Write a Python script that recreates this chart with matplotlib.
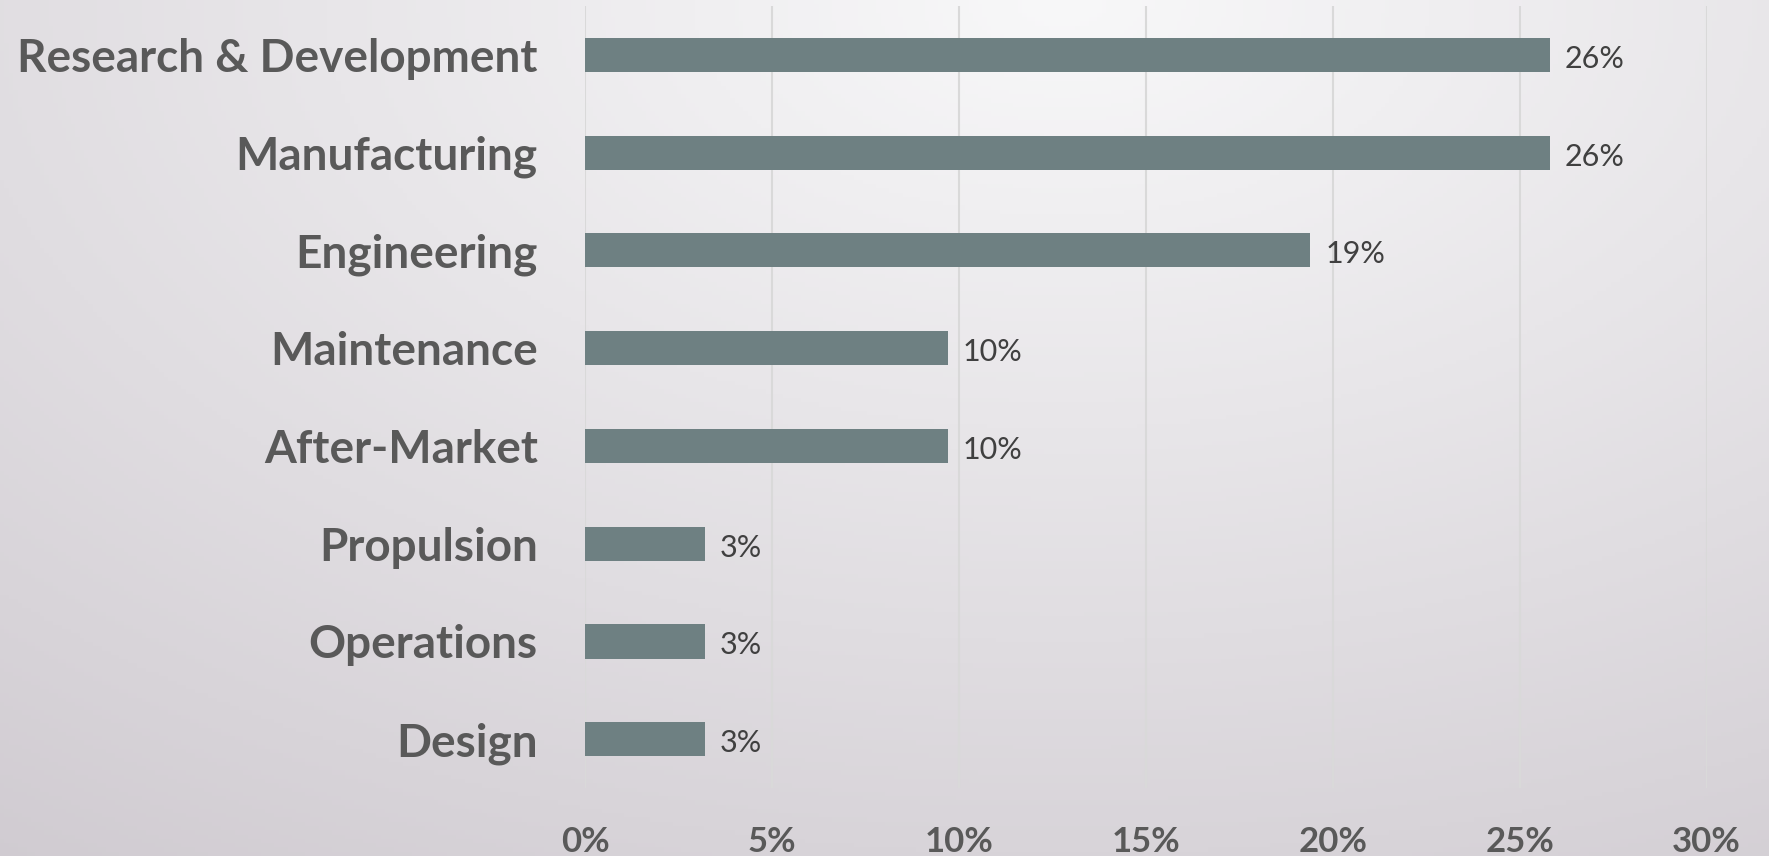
import numpy as np
import matplotlib
matplotlib.use("Agg")
import matplotlib.pyplot as plt
from matplotlib.ticker import FuncFormatter

# data: head counts out of 31, shown as shares
categories = ["Research & Development", "Manufacturing", "Engineering", "Maintenance",
              "After-Market", "Propulsion", "Operations", "Design"]
shares = [25.8, 25.8, 19.4, 9.7, 9.7, 3.2, 3.2, 3.2]
xticks = [0, 5, 10, 15, 20, 25, 30]

BAR = "#6e8082"
TXT = "#595959"

fig = plt.figure(figsize=(17.69, 8.56), dpi=100)

# background gradient (light top centre -> greyish lavender bottom)
bg = fig.add_axes([0, 0, 1, 1], zorder=-10)
yy, xx = np.mgrid[0:1:200j, 0:1:400j]
d = np.sqrt(((xx - 0.6) * 1.2) ** 2 + (yy * 1.0) ** 2)
d = np.clip(d / 1.25, 0, 1)
top = np.array([248, 248, 249]) / 255
bot = np.array([208, 203, 209]) / 255
img = top[None, None, :] * (1 - d[..., None]) + bot[None, None, :] * d[..., None]
bg.imshow(img, extent=[0, 1, 0, 1], aspect="auto", origin="upper")
bg.axis("off")

ax = fig.add_axes([0.3307, 0.0794, 0.634, 0.9136])
ax.patch.set_alpha(0)
y = np.arange(len(categories))
ax.barh(y, shares, height=0.35, color=BAR, zorder=3)
for yi, v in zip(y, shares):
    ax.text(v + 0.4, yi + 0.04, "%d%%" % round(v), va="center", ha="left",
            fontsize=22, color="#404040", family="Lato")

ax.set_xlim(0, 30)
ax.set_ylim(len(categories) - 0.5, -0.5)
ax.set_xticks(xticks)
ax.xaxis.set_major_formatter(FuncFormatter(lambda v, p: "%d%%" % v))
ax.set_yticks(y)
ax.set_yticklabels(categories)
ax.grid(axis="x", color="#d9d9d9", linewidth=1.5, zorder=0)
for s in ax.spines.values():
    s.set_visible(False)
ax.tick_params(axis="both", length=0)
ax.tick_params(axis="y", pad=34)
ax.tick_params(axis="x", pad=27)
for lab in ax.get_yticklabels():
    lab.set_fontsize(33)
    lab.set_fontweight("bold")
    lab.set_color(TXT)
    lab.set_family("Lato")
for lab in ax.get_xticklabels():
    lab.set_fontsize(25)
    lab.set_fontweight("bold")
    lab.set_color(TXT)
    lab.set_family("Lato")

fig.savefig("out.png", dpi=100)
